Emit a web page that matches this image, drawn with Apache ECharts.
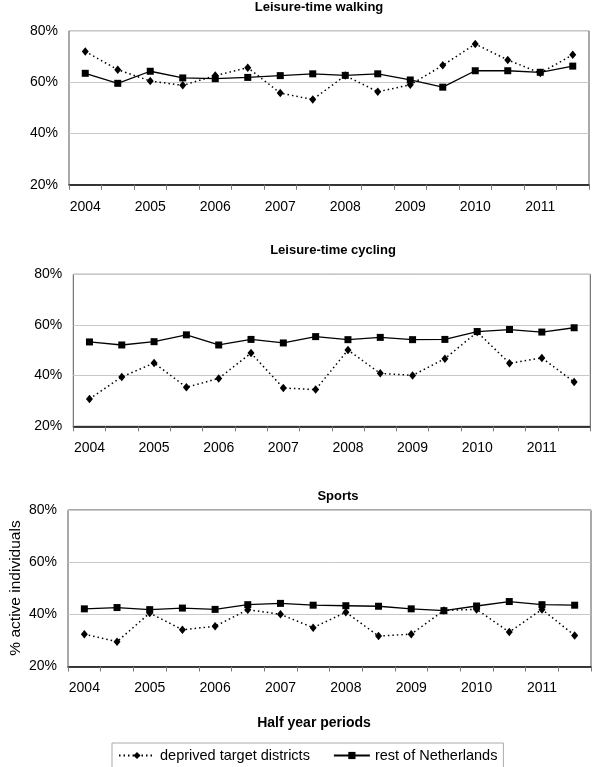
<!DOCTYPE html>
<html><head><meta charset="utf-8">
<script src="https://cdn.jsdelivr.net/npm/echarts@6/dist/echarts.min.js"></script>
<style>html,body{margin:0;padding:0;background:#fff}#c{width:600px;height:767px}</style>
</head><body><div id="c"></div>
<script>
// Half-year periods 2004-I ... 2011-II
const periods = ['2004-I','2004-II','2005-I','2005-II','2006-I','2006-II','2007-I','2007-II',
                 '2008-I','2008-II','2009-I','2009-II','2010-I','2010-II','2011-I','2011-II'];
const yearLabels = ['2004','2005','2006','2007','2008','2009','2010','2011'];
const panelTitles = ['Leisure-time walking','Leisure-time cycling','Sports'];
const seriesNames = ['deprived target districts','rest of Netherlands'];

const walkDeprived   = [71.9, 64.8, 60.4, 58.7, 62.5, 65.6, 55.7, 53.2, 62.5, 56.2, 58.9, 66.5, 74.8, 68.6, 63.5, 70.6];
const walkRest       = [63.4, 59.5, 64.2, 61.6, 61.3, 61.8, 62.5, 63.2, 62.6, 63.2, 60.8, 58.0, 64.4, 64.4, 63.8, 66.2];
const cycleDeprived  = [30.8, 39.5, 45.0, 35.4, 38.9, 48.9, 35.1, 34.5, 50.1, 40.9, 40.1, 46.7, 57.2, 44.9, 47.0, 37.5];
const cycleRest      = [53.3, 52.1, 53.4, 56.1, 52.1, 54.3, 52.9, 55.4, 54.2, 55.1, 54.2, 54.3, 57.4, 58.2, 57.2, 58.9];
const sportsDeprived = [32.4, 29.5, 40.5, 34.1, 35.4, 41.8, 40.0, 34.9, 40.8, 31.7, 32.4, 41.5, 41.9, 33.2, 41.9, 31.9];
const sportsRest     = [42.1, 42.6, 41.8, 42.4, 41.9, 43.7, 44.2, 43.5, 43.3, 43.1, 42.1, 41.4, 43.2, 44.9, 43.7, 43.5];

const panelData = [[walkDeprived, walkRest],[cycleDeprived, cycleRest],[sportsDeprived, sportsRest]];

const FONT = "'Liberation Sans', Arial, sans-serif";
const grids = [
  {left: 69,   top: 30.7,  width: 520, height: 154},
  {left: 73.3, top: 274.3, width: 517, height: 152},
  {left: 68,   top: 510,   width: 523, height: 156.5}
];
const titlePos = [{x: 319, y: 1}, {x: 333, y: 243.5}, {x: 338, y: 489.5}];

const option = {
  animation: false,
  backgroundColor: '#fff',
  textStyle: {fontFamily: FONT, color: '#000'},
  title: panelTitles.map((t, i) => ({
    text: t, left: titlePos[i].x, top: titlePos[i].y, textAlign: 'center', padding: 0,
    textStyle: {fontFamily: FONT, fontSize: 13, fontWeight: 'bold', color: '#000'}
  })).concat([{
    text: 'Half year periods', left: 314, top: 716, textAlign: 'center', padding: 0,
    textStyle: {fontFamily: FONT, fontSize: 14, fontWeight: 'bold', color: '#000'}
  }]),
  legend: {
    data: seriesNames, left: 112, top: 743, padding: [5, 6], itemGap: 23,
    itemWidth: 36, itemHeight: 9, borderColor: '#aaa', borderWidth: 1,
    textStyle: {fontFamily: FONT, fontSize: 14.5, color: '#000'}
  },
  graphic: [{
    type: 'text', x: 15.5, y: 588, rotation: Math.PI / 2,
    style: {text: '% active individuals', fontFamily: FONT, fontSize: 15.5, fill: '#000',
            textAlign: 'center', textVerticalAlign: 'middle'}
  }],
  grid: grids.map(g => Object.assign({show: true, borderColor: '#555', borderWidth: 1, backgroundColor: 'transparent'}, g)),
  xAxis: grids.map((g, i) => ({
    type: 'category', gridIndex: i, data: periods, boundaryGap: true,
    axisLine: {lineStyle: {color: '#000', width: 1.5}},
    axisTick: {show: true, interval: 0, length: 5, lineStyle: {color: '#777'}},
    axisLabel: {interval: 0, margin: 15, fontFamily: FONT, fontSize: 14, color: '#000',
                formatter: (v, idx) => idx % 2 === 0 ? yearLabels[idx / 2] : ''},
    splitLine: {show: false}
  })),
  yAxis: grids.map((g, i) => ({
    type: 'value', gridIndex: i, min: 20, max: 80, interval: 20,
    axisLine: {show: false}, axisTick: {show: false},
    axisLabel: {margin: 11, fontFamily: FONT, fontSize: 14, color: '#000', formatter: '{value}%'},
    splitLine: {lineStyle: {color: '#c8c8c8', width: 1}}
  })),
  series: []
};

panelData.forEach((pair, i) => {
  option.series.push({
    name: seriesNames[0], type: 'line', xAxisIndex: i, yAxisIndex: i, data: pair[0],
    symbol: 'diamond', symbolSize: [7, 8.5], itemStyle: {color: '#000'},
    lineStyle: {color: '#000', width: 1.5, type: [1.5, 3]}, z: 2
  });
  option.series.push({
    name: seriesNames[1], type: 'line', xAxisIndex: i, yAxisIndex: i, data: pair[1],
    symbol: 'rect', symbolSize: 7, itemStyle: {color: '#000'},
    lineStyle: {color: '#000', width: 1.3, type: 'solid'}, z: 3
  });
});

const chart = echarts.init(document.getElementById('c'), null, {renderer: 'canvas'});
chart.setOption(option);
</script></body></html>
